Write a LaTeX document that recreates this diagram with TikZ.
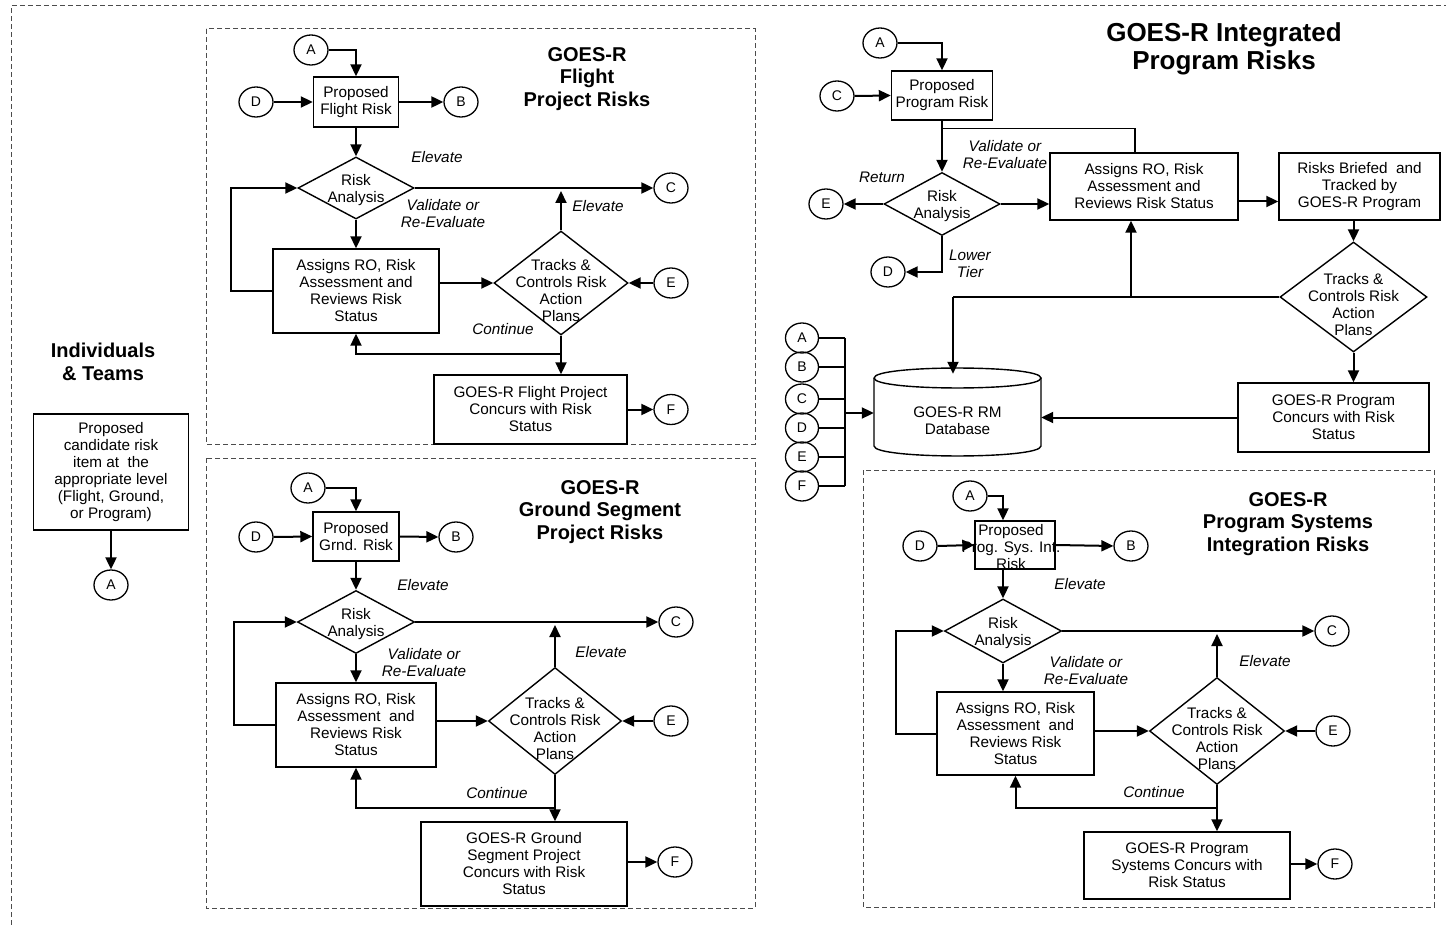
\documentclass[tikz,border=0pt]{standalone}
\usepackage{fontspec}
\setmainfont{Liberation Sans}
\usetikzlibrary{shapes.geometric,arrows.meta}
\tikzset{
  boxs/.style={draw, line width=1.4pt, align=center, inner sep=1pt, font=\fontsize{15.3}{17}\selectfont},
  conn/.style={draw, ellipse, line width=1.3pt, minimum width=34pt, minimum height=30pt, inner sep=0pt, font=\fontsize{14}{15}\selectfont},
  dia/.style={draw, diamond, line width=1.4pt, inner sep=0pt},
  dtext/.style={align=center, inner sep=0pt, font=\fontsize{15.3}{17}\selectfont},
  lab/.style={align=center, inner sep=0pt, font=\fontsize{15.3}{17}\selectfont\itshape},
  ttl/.style={align=center, inner sep=0pt, font=\fontsize{20}{22.5}\selectfont\bfseries},
  arr/.style={line width=2pt, -{Triangle[length=12pt,width=11pt]}},
  ln/.style={line width=2pt},
  thin/.style={line width=1.4pt},
  frm/.style={dash pattern=on 5pt off 3pt, line width=1pt, black!70},
}
\begin{document}
\begin{tikzpicture}[x=1pt,y=-1pt]
\useasboundingbox (0,0) rectangle (1446,925);
\draw[frm] (11,925) -- (11,6) -- (1446,6);

% ---------------- Individuals & Teams
\node[ttl] (itl) at (103,362) {Individuals\\\& Teams};
\node[boxs, minimum width=155pt, minimum height=116pt] (ibx) at (111,472) {Proposed\\candidate risk\\item at~ the\\appropriate level\\(Flight, Ground,\\or Program)};
\node[conn] (iiA) at (111,585) {A};
\draw[arr] (ibx.south) -- (iiA.north);

% ---------------- Flight
\draw[frm] (206,29) rectangle (755,444);
\node[ttl] (ftl) at (587,79) {GOES-R\\Flight\\Project Risks};
\node[conn] (fA) at (311,50) {A};
\node[boxs, minimum width=85pt, minimum height=50pt] (fP) at (356,102) {Proposed\\Flight Risk};
\node[conn] (fD) at (256,102) {D};
\node[conn] (fB) at (461,102) {B};
\node[dia, minimum width=116pt, minimum height=62pt] (fRA) at (356,188) {};
\node[dtext] (fRAt) at ([yshift=-2pt]fRA.center) {Risk\\Analysis};
\node[conn] (fC) at (671,188) {C};
\node[boxs, minimum width=166pt, minimum height=84pt] (fAs) at (356,291) {Assigns RO, Risk\\Assessment and\\Reviews Risk\\Status};
\node[dia, minimum width=134pt, minimum height=104pt] (fT) at (561,283) {};
\node[dtext] (fTt) at ([yshift=-8pt]fT.center) {Tracks \&\\Controls Risk\\Action\\Plans};
\node[conn] (fE) at (671,283) {E};
\node[boxs, minimum width=193pt, minimum height=69pt] (fF) at (530.5,409.5) {GOES-R Flight Project\\Concurs with Risk\\Status};
\node[conn] (fFc) at (671,409.5) {F};
\node[lab] (fl1) at (437,157) {Elevate};
\node[lab] (fl2) at (443,214) {Validate or\\Re-Evaluate};
\node[lab] (fl3) at (598,206) {Elevate};
\node[lab] (fl4) at (503,329) {Continue};
\draw[arr] (fA.east) -| (fP.north);
\draw[arr] (fD.east) -- (fP.west);
\draw[arr] (fP.east) -- (fB.west);
\draw[arr] (fP.south) -- (fRA.north);
\draw[arr] (fRA.east) -- (fC.west);
\draw[arr] (fRA.south) -- (fAs.north);
\draw[arr] (fAs.west) -- ++(-41,0) |- (fRA.west);
\draw[arr] (fAs.east |- fT.west) -- (fT.west);
\draw[arr, shorten >=3pt] (fT.north) -- (fT.north |- fRA.east);
\draw[arr] (fE.west) -- (fT.east);
\draw[arr] (fT.south) -- ++(0,18) -| (fAs.south);
\draw[arr] (fT.south) -- (fT.south |- fF.north);
\draw[arr] (fF.east) -- (fFc.west);

% ---------------- Ground
\draw[frm] (206,458) rectangle (755,908);
\node[ttl] (gtl) at (600,512) {GOES-R\\Ground Segment\\Project Risks};
\node[conn] (gA) at (308,488) {A};
\node[boxs, minimum width=86pt, minimum height=49pt] (gP) at (356,536.5) {Proposed\\Grnd. Risk};
\node[conn] (gD) at (256,537) {D};
\node[conn] (gB) at (456,537) {B};
\node[dia, minimum width=117pt, minimum height=63pt] (gRA) at (356,622) {};
\node[dtext] (gRAt) at ([yshift=-2pt]gRA.center) {Risk\\Analysis};
\node[conn] (gC) at (676,622) {C};
\node[boxs, minimum width=160pt, minimum height=84pt] (gAs) at (356,725) {Assigns RO, Risk\\Assessment~ and\\Reviews Risk\\Status};
\node[dia, minimum width=133pt, minimum height=107pt] (gT) at (555,721) {};
\node[dtext] (gTt) at ([yshift=-8pt]gT.center) {Tracks \&\\Controls Risk\\Action\\Plans};
\node[conn] (gE) at (671,721) {E};
\node[boxs, minimum width=206pt, minimum height=84pt] (gF) at (524,864) {GOES-R Ground\\Segment Project\\Concurs with Risk\\Status};
\node[conn] (gFc) at (675,862) {F};
\node[lab] (gl1) at (423,585) {Elevate};
\node[lab] (gl2) at (424,663) {Validate or\\Re-Evaluate};
\node[lab] (gl3) at (601,652) {Elevate};
\node[lab] (gl4) at (497,793) {Continue};
\draw[arr] (gA.east) -| (gP.north);
\draw[arr] (gD.east) -- (gP.west);
\draw[arr] (gP.east) -- (gB.west);
\draw[arr] (gP.south) -- (gRA.north);
\draw[arr] (gRA.east) -- (gC.west);
\draw[arr] (gRA.south) -- (gAs.north);
\draw[arr] (gAs.west) -- ++(-41,0) |- (gRA.west);
\draw[arr] (gAs.east |- gT.west) -- (gT.west);
\draw[arr, shorten >=3pt] (gT.north) -- (gT.north |- gRA.east);
\draw[arr] (gE.west) -- (gT.east);
\draw[arr] (gT.south) -- ++(0,33) -| (gAs.south);
\draw[arr] (gT.south) -- (gT.south |- gF.north);
\draw[arr] (gF.east |- gFc.west) -- (gFc.west);

% ---------------- Integrated program
\node[ttl, font=\fontsize{26}{28}\selectfont\bfseries] (ptl) at (1224,49) {GOES-R Integrated\\Program Risks};
\node[conn] (pA) at (880,43) {A};
\node[boxs, minimum width=101pt, minimum height=49pt] (pP) at (942,95.5) {Proposed\\Program Risk};
\node[conn] (pC) at (837,96) {C};
\node[dia, minimum width=116pt, minimum height=63pt] (pRA) at (942,204) {};
\node[dtext] (pRAt) at ([yshift=-2pt]pRA.center) {Risk\\Analysis};
\node[conn] (pE) at (826,204) {E};
\node[conn] (pD) at (888,272) {D};
\node[boxs, minimum width=188pt, minimum height=67pt] (pAs) at (1144,186.5) {Assigns RO, Risk\\Assessment and\\Reviews Risk Status};
\node[boxs, minimum width=161pt, minimum height=67pt] (pR) at (1359.5,186.5) {Risks Briefed~ and\\Tracked by\\GOES-R Program};
\node[dia, minimum width=147pt, minimum height=110pt] (pT) at (1353.5,297) {};
\node[dtext] (pTt) at ([yshift=-8pt]pT.center) {Tracks \&\\Controls Risk\\Action\\Plans};
\node[boxs, minimum width=191pt, minimum height=69pt] (pG) at (1333.5,417.5) {GOES-R Program\\Concurs with Risk\\Status};
\node[minimum width=167pt, minimum height=88pt, inner sep=0pt] (db) at (957.5,412) {};
\draw[thin] (874,378) .. controls (874,364.7) and (1041,364.7) .. (1041,378) .. controls (1041,391.3) and (874,391.3) .. (874,378);
\draw[thin] (874,378) -- (874,446) .. controls (874,459.3) and (1041,459.3) .. (1041,446) -- (1041,378);
\node[dtext] (dbt) at (957.5,421) {GOES-R RM\\Database};
\node[lab] (pl1) at (1005,154.5) {Validate or\\Re-Evaluate};
\node[lab] (pl2) at (882,177) {Return};
\node[lab] (pl3) at (970,264) {Lower\\Tier};
\node[conn, minimum width=33pt] (qA) at (802,338) {A};
\node[conn, minimum width=33pt] (qB) at (802,367) {B};
\node[conn, minimum width=33pt] (qC) at (802,399) {C};
\node[conn, minimum width=33pt] (qD) at (802,428) {D};
\node[conn, minimum width=33pt] (qE) at (802,457) {E};
\node[conn, minimum width=33pt] (qF) at (802,486) {F};
\coordinate (busT) at (845,338);
\coordinate (busB) at (845,486);
\coordinate (dbin) at (845,413);
\coordinate (j1) at (953,297);
\coordinate (j2) at (1131,297);
\draw[arr] (pA.east) -| (pP.north);
\draw[arr] (pC.east) -- (pP.west);
\draw[arr] (pP.south) -- (pRA.north);
\draw[thin] ([yshift=-8pt]pP.south) -| ([xshift=-9pt]pAs.north);
\draw[arr] (pRA.west) -- (pE.east);
\draw[arr] (pRA.east) -- (pRA.east -| pAs.west);
\draw[arr] (pRA.south) |- (pD.east);
\draw[arr] ([yshift=-15pt]pAs.east) -- ([yshift=-15pt]pR.west);
\draw[arr] (pR.south -| pT.north) -- (pT.north);
\draw[ln] (pT.west) -- (j1);
\draw[arr] (j1) -- ([yshift=-6pt]j1 |- db.north);
\draw[arr] (j2) -- (j2 |- pAs.south);
\draw[arr] (pT.south) -- (pT.south |- pG.north);
\draw[arr] (pG.west) -- (pG.west -| db.east);
\draw[ln] (busT) -- (busB);
\foreach \c in {qA,qB,qC,qD,qE,qF} { \draw[thin] (\c.east) -- (\c.east -| busT); }
\draw[arr] (dbin) -- (dbin -| db.west);

% ---------------- Program systems integration
\draw[frm] (863,470) rectangle (1434,907);
\node[ttl] (stl) at (1288,524) {GOES-R\\Program Systems\\Integration Risks};
\node[conn] (sA) at (970,496) {A};
\node[boxs, minimum width=80pt, minimum height=48pt] (sP) at (1015,545) {};
\node[dtext] (sPt) at (1011,547.5) {Proposed\\Prog. Sys. Int.\\Risk};
\node[conn] (sD) at (920,546) {D};
\node[conn] (sB) at (1131,546) {B};
\node[dia, minimum width=117pt, minimum height=64pt] (sRA) at (1003,631) {};
\node[dtext] (sRAt) at ([yshift=-2pt]sRA.center) {Risk\\Analysis};
\node[conn] (sC) at (1332,631) {C};
\node[boxs, minimum width=157pt, minimum height=83pt] (sAs) at (1015.5,733.5) {Assigns RO, Risk\\Assessment~ and\\Reviews Risk\\Status};
\node[dia, minimum width=135pt, minimum height=107pt] (sT) at (1217,731) {};
\node[dtext] (sTt) at ([yshift=-8pt]sT.center) {Tracks \&\\Controls Risk\\Action\\Plans};
\node[conn] (sE) at (1333,731) {E};
\node[boxs, minimum width=206pt, minimum height=67pt] (sF) at (1187,865.5) {GOES-R Program\\Systems Concurs with\\Risk Status};
\node[conn] (sFc) at (1335,864) {F};
\node[lab] (sl1) at (1080,584) {Elevate};
\node[lab] (sl2) at (1086,671) {Validate or\\Re-Evaluate};
\node[lab] (sl3) at (1265,661) {Elevate};
\node[lab] (sl4) at (1154,792) {Continue};
\draw[arr] (sA.east) -| (sRA.north |- sP.north);
\draw[arr] (sD.east) -- (sP.west);
\draw[arr] (sP.east) -- (sB.west);
\draw[arr] (sRA.north |- sP.south) -- (sRA.north);
\draw[arr] (sRA.east) -- (sC.west);
\draw[arr] (sRA.south) -- (sRA.south |- sAs.north);
\draw[arr] (sAs.west) -- ++(-40,0) |- (sRA.west);
\draw[arr] (sAs.east |- sT.west) -- (sT.west);
\draw[arr, shorten >=3pt] (sT.north) -- (sT.north |- sRA.east);
\draw[arr] (sE.west) -- (sT.east);
\draw[arr] (sT.south) -- ++(0,23) -| (sAs.south);
\draw[arr] (sT.south) -- (sT.south |- sF.north);
\draw[arr] (sF.east |- sFc.west) -- (sFc.west);
\end{tikzpicture}
\end{document}
